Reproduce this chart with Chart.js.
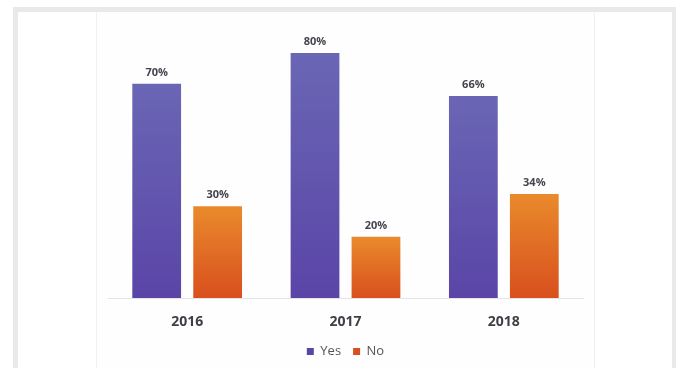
<!DOCTYPE html>
<html>
<head>
<meta charset="utf-8">
<script src="https://cdn.jsdelivr.net/npm/chart.js@4"></script>
<style>
  body { margin: 0; background: #fff; width: 676px; height: 368px; overflow: hidden; position: relative; }
  .frame { position: absolute; left: 13px; top: 7px; right: 0; bottom: 0; background: #e8e9eb; }
  .sheet { position: absolute; left: 5px; top: 5px; right: 4px; bottom: 0; background: #fff; }
  .panel { position: absolute; left: 96px; top: 12px; width: 497px; height: 356px;
           background: #fefefe; border-left: 1px solid #f0f0f1; border-right: 1px solid #f0f0f1; }
</style>
</head>
<body>
<div class="frame"><div class="sheet"></div></div>
<div class="panel"><canvas id="myChart"></canvas></div>
<script>
var years = ['2016', '2017', '2018'];
var yesValues = [70, 80, 66];
var noValues = [30, 20, 34];
var seriesNames = ['Yes', 'No'];

// vertical gradient per bar, from its top down to the baseline
function barGradient(top, bottom, solid) {
    return function(ctx) {
        var chart = ctx.chart;
        if (ctx.type !== 'data' || !chart.chartArea) {
            return solid;
        }
        var y = chart.scales.y;
        var yTop = y.getPixelForValue(ctx.raw);
        var yBottom = y.getPixelForValue(0);
        var g = chart.ctx.createLinearGradient(0, yTop, 0, yBottom);
        g.addColorStop(0, top);
        g.addColorStop(1, bottom);
        return g;
    };
}

var valueLabels = {
    id: 'valueLabels',
    afterDatasetsDraw: function(chart) {
        var ctx = chart.ctx;
        ctx.save();
        ctx.font = 'bold 11px "Open Sans"';
        ctx.fillStyle = '#45444e';
        ctx.textAlign = 'center';
        ctx.textBaseline = 'alphabetic';
        chart.data.datasets.forEach(function(ds, i) {
            chart.getDatasetMeta(i).data.forEach(function(bar, j) {
                ctx.fillText(ds.data[j] + '%', bar.x, bar.y - 8);
            });
        });
        ctx.restore();
    }
};

const config = {
    type: 'bar',
    data: {
        labels: years,
        datasets: [
            {
                label: seriesNames[0],
                data: yesValues,
                backgroundColor: barGradient('#6a66b5', '#5a45a7', '#5e52ae')
            },
            {
                label: seriesNames[1],
                data: noValues,
                backgroundColor: barGradient('#ea8a2c', '#d8501e', '#e06a25')
            }
        ]
    },
    options: {
        responsive: true,
        maintainAspectRatio: false,
        animation: false,
        layout: {
            padding: { left: 11, right: 11, top: 41, bottom: 0 }
        },
        datasets: {
            bar: {
                categoryPercentage: 0.77,
                barPercentage: 0.8
            }
        },
        scales: {
            x: {
                grid: { display: false },
                border: { display: true, color: '#e4e4e6', width: 1 },
                ticks: {
                    padding: 8,
                    color: '#403f48',
                    font: { family: '"Open Sans"', size: 14, weight: 'bold' }
                },
                afterFit: function(scale) { scale.height = 35; }
            },
            y: {
                display: false,
                min: 0,
                max: 80
            }
        },
        plugins: {
            legend: {
                position: 'bottom',
                labels: {
                    boxWidth: 7,
                    boxHeight: 7,
                    padding: 12,
                    color: '#55545c',
                    font: { family: '"Open Sans"', size: 13 }
                }
            },
            tooltip: { enabled: false }
        }
    },
    plugins: [valueLabels]
};

const myChart = new Chart(document.getElementById('myChart'), config);
</script>
</body>
</html>
